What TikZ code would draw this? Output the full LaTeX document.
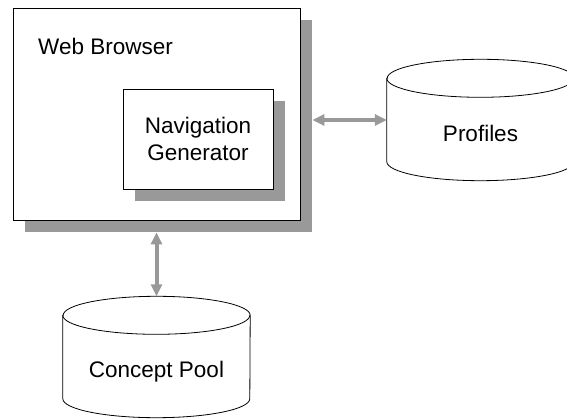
\documentclass[tikz,border=0pt]{standalone}
\usepackage{fontspec}
\setmainfont{Liberation Sans}
\usetikzlibrary{shadows,arrows.meta}
\definecolor{shade}{gray}{0.6}
\begin{document}
\begin{tikzpicture}[x=1pt,y=-1pt]
			\tikzstyle{box}=[draw, fill=white, line width=0.8pt, inner sep=0pt,
				drop shadow={shadow xshift=12pt, shadow yshift=-12pt, fill=shade, opacity=1}]
			\tikzstyle{store}=[minimum width=187pt, minimum height=121pt, inner sep=0pt]
			\tikzstyle{rim}=[x radius=93.5pt, y radius=19pt]
			\tikzstyle{link}=[draw=shade, line width=4pt,
				{Triangle[width=11pt,length=12pt]}-{Triangle[width=11pt,length=12pt]}]
			\fontsize{22.5}{26.5}\selectfont
			\useasboundingbox (0,0) rectangle (567,419);
			% boxes
			\node[box, minimum width=287pt, minimum height=212pt] (wb) at (156.5,114) {};
			\node[anchor=base west, inner sep=0pt] (wblabel) at (38,55) {Web Browser};
			\node[box, minimum width=150pt, minimum height=100pt, align=center] (nav) at (198,139) {Navigation\\Generator};
			% stores
			\node[store] (pr) at (480.5,120) {};
			\node[store] (cp) at (156.5,357) {};
			\foreach \db in {pr,cp} {
				\draw[line width=0.8pt, fill=white] ([yshift=-19pt]\db.north west)
					-- ([yshift=19pt]\db.south west) arc[rim, start angle=180, end angle=360]
					-- ([yshift=-19pt]\db.north east) arc[rim, start angle=0, end angle=180] -- cycle;
				\draw[line width=0.8pt] ([yshift=-19pt]\db.north west) arc[rim, start angle=180, end angle=360];
			}
			\node (prlabel) at ([yshift=-13pt]pr.center) {Profiles};
			\node (cplabel) at ([yshift=-15pt]cp.center) {Concept Pool};
			% links
			\draw[link] ([xshift=12pt]wb.east |- pr.west) -- (pr.west);
			\draw[link] ([yshift=-12pt]wb.south -| cp.north) -- (cp.north);
		\end{tikzpicture}
\end{document}
